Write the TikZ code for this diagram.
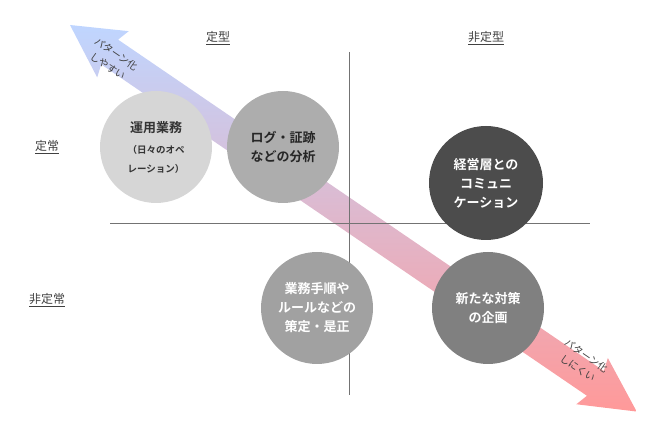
\documentclass[tikz,border=0pt]{standalone}
\usepackage{fontspec}
\setmainfont{Noto Sans CJK JP}
\newfontfamily\jpb{Noto Sans CJK JP Bold}
\begin{document}
\begin{tikzpicture}[x=1pt,y=-1pt,
  circ/.style={circle,minimum size=112pt,inner sep=0pt,align=center,font=\jpb\fontsize{13}{19}\selectfont},
  lab/.style={font=\fontsize{12}{14}\selectfont,text=black!75},
  albl/.style={font=\fontsize{10}{15}\selectfont,text=black!75,rotate=-34.3,align=center},
  axis/.style={draw=black!55,line width=0.7pt}]
\useasboundingbox (0,0) rectangle (653,427);
% arrow
\begin{scope}[shift={(70,25)},rotate=-34.3]
\shade[left color=cyan!35!blue!25!white,middle color=white,right color=red!40!white,shading angle=0]
 (0,0) -- (52,-28) -- (48,-15) -- (636,-15) -- (632,-28) -- (686,0) -- (632,28) -- (636,15) -- (48,15) -- (52,28) -- cycle;
\end{scope}
\draw[axis] (110,223) coordinate (hl) -- (590,223) coordinate (hr);
\draw[axis] (349,52) coordinate (vt) -- (349,395) coordinate (vb);
\node[lab] (t1) at (218,38) {\underline{定型}};
\node[lab] (t2) at (486,38) {\underline{非定型}};
\node[lab] (s1) at (47,147) {\underline{定常}};
\node[lab] (s2) at (47,300) {\underline{非定常}};
\node[albl] (a1) at (112,60) {パターン化\\しやすい};
\node[albl] (a2) at (582,362) {パターン化\\しにくい};
\node[circ,fill=black!16,text=black!80] (c1) at (156,147) {運用業務\\[2pt]\fontsize{9.5}{16}\selectfont （日々のオペ\\\fontsize{9.5}{16}\selectfont レーション）};
\node[circ,fill=black!32,text=black!85] (c2) at (283,147) {ログ・証跡\\などの分析};
\node[circ,fill=black!70,text=white,minimum size=114pt] (c3) at (486,183) {経営層との\\コミュニ\\ケーション};
\node[circ,fill=black!37,text=white] (c4) at (317,308) {業務手順や\\ルールなどの\\策定・是正};
\node[circ,fill=black!50,text=white] (c5) at (488,308) {新たな対策\\の企画};
\end{tikzpicture}
\end{document}
